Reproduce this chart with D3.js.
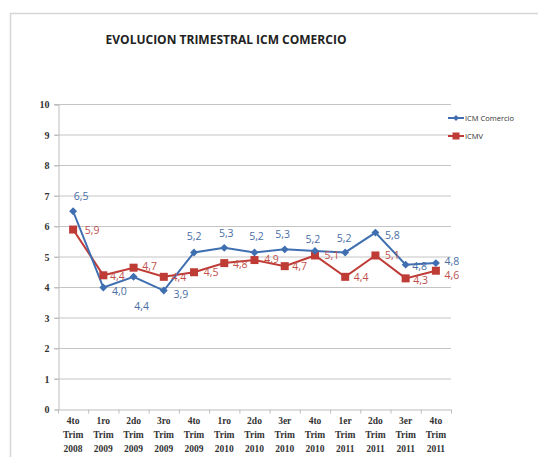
<!DOCTYPE html>
<html>
<head>
<meta charset="utf-8">
<script src="https://cdn.jsdelivr.net/npm/d3@7"></script>
<style>
  body { margin: 0; background: #fff; }
  svg { display: block; }
</style>
</head>
<body>
<svg></svg>
<script>
var categories = [
  ["4to","Trim","2008"], ["1ro","Trim","2009"], ["2do","Trim","2009"], ["3ro","Trim","2009"],
  ["4to","Trim","2009"], ["1ro","Trim","2010"], ["2do","Trim","2010"], ["3er","Trim","2010"],
  ["4to","Trim","2010"], ["1er","Trim","2011"], ["2do","Trim","2011"], ["3er","Trim","2011"],
  ["4to","Trim","2011"]
]
var icmComercio = [6.5, 4.0, 4.35, 3.9, 5.15, 5.3, 5.15, 5.25, 5.2, 5.15, 5.8, 4.75, 4.8]
var icmComercioLabels = ["6,5","4,0","4,4","3,9","5,2","5,3","5,2","5,3","5,2","5,2","5,8","4,8","4,8"]
var icmv = [5.9, 4.4, 4.65, 4.35, 4.5, 4.8, 4.9, 4.7, 5.05, 4.35, 5.05, 4.3, 4.55]
var icmvLabels = ["5,9","4,4","4,7","4,4","4,5","4,8","4,9","4,7","5,1","4,4","5,1","4,3","4,6"]
var yTicks = [0,1,2,3,4,5,6,7,8,9,10]

function main(){
    var width = 538
    var height = 457
    var svg = d3.select('svg').attr("width", width).attr("height", height)

    var blue = "#3f6fb0"
    var red = "#be3b36"

    // outer frame
    svg.append("rect")
        .attr("x", 10.5).attr("y", 13.5)
        .attr("width", 540).attr("height", 460)
        .style("fill", "none").style("stroke", "#d6d6d6").style("stroke-width", 1.5)

    svg.append("text")
        .attr("x", 226).attr("y", 44)
        .attr("text-anchor", "middle")
        .style("font-family", "Open Sans")
        .style("font-weight", "bold")
        .style("font-size", "12px")
        .style("fill", "#222")
        .text("EVOLUCION TRIMESTRAL ICM COMERCIO")

    var x = d3.scaleBand()
        .domain(d3.range(categories.length))
        .range([58, 451])
    var y = d3.scaleLinear().domain([0, 10]).range([409.5, 104.5])

    // grid
    svg.append("g").selectAll("line")
        .data(yTicks.slice(1))
        .join("line")
        .attr("x1", 54).attr("x2", 451)
        .attr("y1", d => y(d)).attr("y2", d => y(d))
        .style("stroke", "#c4c4c4").style("stroke-width", 1)

    var yAxis = d3.axisLeft(y).tickValues(yTicks).tickSize(4).tickPadding(5)
    var gy = svg.append("g").attr("transform", "translate(58.5,0)").call(yAxis)
    gy.select(".domain").style("stroke", "#bdbdbd")
    gy.selectAll(".tick line").style("stroke", "#bdbdbd")
    gy.selectAll("text")
        .style("font-family", "Liberation Serif")
        .style("font-weight", "bold")
        .style("font-size", "10px")
        .style("fill", "#333")

    var xAxis = d3.axisBottom(x).tickSize(0).tickFormat("")
    var gx = svg.append("g").attr("transform", "translate(0,409.5)").call(xAxis)
    gx.select(".domain").style("stroke", "#bdbdbd")
    svg.append("g").selectAll("line")
        .data(d3.range(categories.length + 1))
        .join("line")
        .attr("x1", d => x.step() * d + 58.5).attr("x2", d => x.step() * d + 58.5)
        .attr("y1", 409.5).attr("y2", 413.5)
        .style("stroke", "#bdbdbd")

    var lab = svg.append("g").selectAll("text")
        .data(categories)
        .join("text")
        .attr("x", (d, i) => x(i) + x.bandwidth() / 2)
        .attr("y", 424)
        .attr("text-anchor", "middle")
        .style("font-family", "Liberation Serif")
        .style("font-weight", "bold")
        .style("font-size", "9.5px")
        .style("fill", "#333")
    lab.selectAll("tspan")
        .data(d => d)
        .join("tspan")
        .attr("x", function(){ return d3.select(this.parentNode).attr("x") })
        .attr("dy", (d, i) => i == 0 ? 0 : 14)
        .text(d => d)

    var cx = i => x(i) + x.bandwidth() / 2
    var line = d3.line().x((d, i) => cx(i)).y(d => y(d))

    svg.append("path").datum(icmv).attr("d", line)
        .style("fill", "none").style("stroke", red).style("stroke-width", 2)
    svg.append("path").datum(icmComercio).attr("d", line)
        .style("fill", "none").style("stroke", blue).style("stroke-width", 2)

    svg.append("g").selectAll("rect")
        .data(icmv)
        .join("rect")
        .attr("x", (d, i) => cx(i) - 4).attr("y", d => y(d) - 4)
        .attr("width", 8).attr("height", 8)
        .style("fill", red)
    svg.append("g").selectAll("path")
        .data(icmComercio)
        .join("path")
        .attr("d", d3.symbol(d3.symbolDiamond2, 40))
        .attr("transform", (d, i) => "translate(" + cx(i) + "," + y(d) + ")")
        .style("fill", blue)

    // data labels: offset from point
    var blueOff = [[8,-15],[16,3],[8,29],[17,3],[0,-16],[2,-15],[2,-16],[-2,-15],[-2,-12],[-1,-14],[17,2],[14,1],[16,-2]]
    var redOff = [[19,0],[14,1],[16,-2],[15,0],[17,0],[16,1],[17,-1],[15,0],[17,0],[16,0],[17,0],[15,2],[16,4]]

    svg.append("g").selectAll("text")
        .data(icmvLabels)
        .join("text")
        .attr("x", (d, i) => cx(i) + redOff[i][0])
        .attr("y", (d, i) => y(icmv[i]) + redOff[i][1] + 4)
        .attr("text-anchor", "middle")
        .style("font-family", "Open Sans")
        .style("font-size", "10.5px")
        .style("fill", "#c0504d")
        .text(d => d)
    svg.append("g").selectAll("text")
        .data(icmComercioLabels)
        .join("text")
        .attr("x", (d, i) => cx(i) + blueOff[i][0])
        .attr("y", (d, i) => y(icmComercio[i]) + blueOff[i][1] + 4)
        .attr("text-anchor", "middle")
        .style("font-family", "Open Sans")
        .style("font-size", "10.5px")
        .style("fill", "#4a6ea6")
        .text(d => d)

    // legend
    var legend = [["ICM Comercio", blue, "diamond"], ["ICMV", red, "square"]]
    var lg = svg.append("g").selectAll("g")
        .data(legend)
        .join("g")
        .attr("transform", (d, i) => "translate(448," + (118 + i * 18) + ")")
    lg.append("line").attr("x1", 0).attr("x2", 16)
        .style("stroke", d => d[1]).style("stroke-width", 2)
    lg.filter(d => d[2] == "diamond").append("path")
        .attr("d", d3.symbol(d3.symbolDiamond2, 24))
        .attr("transform", "translate(8,0)")
        .style("fill", d => d[1])
    lg.filter(d => d[2] == "square").append("rect")
        .attr("x", 4.5).attr("y", -3.5).attr("width", 7).attr("height", 7)
        .style("fill", d => d[1])
    lg.append("text").attr("x", 17).attr("y", 3)
        .style("font-family", "Open Sans")
        .style("font-size", "7.5px")
        .style("fill", "#333")
        .text(d => d[0])
}
main()
</script>
</body>
</html>
